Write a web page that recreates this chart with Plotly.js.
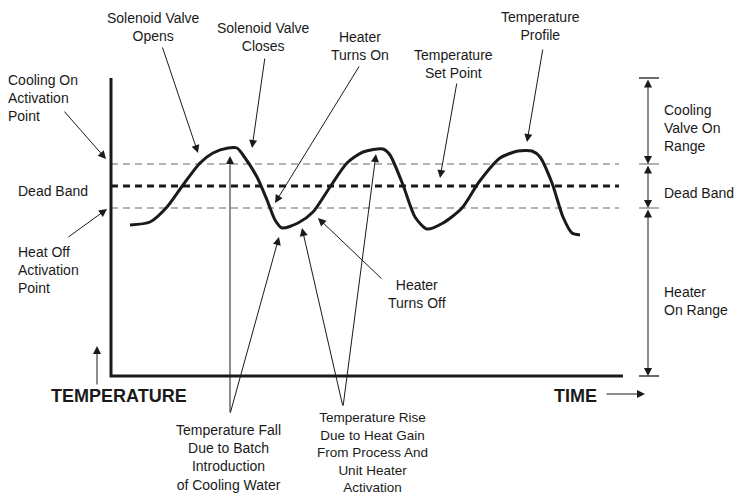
<!DOCTYPE html>
<html><head><meta charset="utf-8">
<script src="https://cdn.plot.ly/plotly-3.0.1.min.js"></script>
<style>html,body{margin:0;padding:0;background:#fff}</style>
</head><body><div id="chart" style="width:739px;height:496px"></div>
<script>
// Temperature profile (time to the right, temperature on a downward pixel scale)
const profileTime = [130,150,167,183,200,213,228,237,243,257,267,275,282,298,313,330,347,363,383,390,403,415,427,443,462,479,500,518,532,540,552,563,572,580];
const profileTemp = [225,222,207,185,163,153,148,148,155,177,200,220,228,223,212,187,163,152,149,155,185,217,229,223,208,182,158,151,151,157,183,217,233,235];

// Control levels
const coolOnLevel = 164;
const setPointLevel = 186;
const heatOffLevel = 208;
const bandX = [111, 619];

// Axes frame of the diagram
const axisX = [111, 111, 623];
const axisY = [78, 376, 376];

// Range bracket levels on the right
const rangeLevels = [78, 164, 208, 376];

// Label texts
const topLabels = ['Solenoid Valve<br>Opens', 'Solenoid Valve<br>Closes', 'Heater<br>Turns On', 'Temperature<br>Set Point', 'Temperature<br>Profile'];
const leftLabels = ['Cooling On<br>Activation<br>Point', 'Dead Band', 'Heat Off<br>Activation<br>Point'];
const rightLabels = ['Cooling<br>Valve On<br>Range', 'Dead Band', 'Heater<br>On Range'];
const bottomLabels = ['Heater<br>Turns Off', 'Temperature Fall<br>Due to Batch<br>Introduction<br>of Cooling Water', 'Temperature Rise<br>Due to Heat Gain<br>From Process And<br>Unit Heater<br>Activation'];
const axisLabels = ['TEMPERATURE', 'TIME'];

const FONT = '"Liberation Sans", Arial, Helvetica, sans-serif';
const INK = '#1a1a1a';

const traces = [
  {x: bandX, y: [coolOnLevel, coolOnLevel], mode: 'lines', line: {color: '#9a9a9a', width: 1.5, dash: '7px,5px'}},
  {x: bandX, y: [heatOffLevel, heatOffLevel], mode: 'lines', line: {color: '#9a9a9a', width: 1.5, dash: '7px,5px'}},
  {x: bandX, y: [setPointLevel, setPointLevel], mode: 'lines', line: {color: INK, width: 3, dash: '7px,5px'}},
  {x: axisX, y: axisY, mode: 'lines', line: {color: INK, width: 3}},
  {x: profileTime, y: profileTemp, mode: 'lines', line: {color: INK, width: 3, shape: 'spline', smoothing: 0.7}}
];

const shapes = rangeLevels.map((lv, i) => ({
  type: 'line', xref: 'x', yref: 'y', x0: 639, x1: 659, y0: lv, y1: lv,
  line: {color: (i === 0 || i === 3) ? INK : '#8a8a8a', width: 1.3}
}));

function ptr(ax, ay, x, y, both) {
  return {x: x, y: y, ax: ax, ay: ay, xref: 'x', yref: 'y', axref: 'x', ayref: 'y',
    text: '', showarrow: true, arrowhead: 2, arrowsize: 1.6, arrowwidth: 1, arrowcolor: INK,
    standoff: 0, startstandoff: 0, arrowside: both ? 'end+start' : 'end', startarrowhead: 2, startarrowsize: 1.6};
}
function lbl(text, x, y, anchor, size, bold) {
  return {x: x, y: y, xref: 'x', yref: 'y', text: bold ? '<b>' + text + '</b>' : text, showarrow: false,
    xanchor: anchor, yanchor: 'middle', align: anchor === 'left' ? 'left' : 'center',
    font: {family: FONT, size: size, color: INK}};
}

const annotations = [
  ptr(162, 46, 198, 153),
  ptr(265, 57, 252, 148),
  ptr(360, 65, 275, 203),
  ptr(457, 82, 440, 178),
  ptr(543, 48, 527, 142),
  ptr(63, 110, 106, 159),
  ptr(67, 238, 107, 209),
  ptr(383, 280, 318, 218),
  ptr(230, 414, 230, 156),
  ptr(230, 414, 279, 237),
  ptr(343, 407, 302, 228),
  ptr(343, 407, 376, 154),
  ptr(97, 386, 97, 346),
  ptr(605, 394, 645, 394),
  ptr(648, rangeLevels[0], 648, rangeLevels[1], true),
  ptr(648, rangeLevels[1], 648, rangeLevels[2], true),
  ptr(648, rangeLevels[2], 648, rangeLevels[3], true),
  lbl(topLabels[0], 153, 27, 'center', 14),
  lbl(topLabels[1], 263, 37, 'center', 14),
  lbl(topLabels[2], 360, 46, 'center', 14),
  lbl(topLabels[3], 453, 64, 'center', 14),
  lbl(topLabels[4], 540, 26, 'center', 14),
  lbl(leftLabels[0], 6, 98, 'left', 14),
  lbl(leftLabels[1], 16, 191, 'left', 14),
  lbl(leftLabels[2], 16, 270, 'left', 14),
  lbl(rightLabels[0], 662, 128, 'left', 14),
  lbl(rightLabels[1], 662, 193, 'left', 14),
  lbl(rightLabels[2], 662, 301, 'left', 14),
  lbl(bottomLabels[0], 417, 294, 'center', 14),
  lbl(bottomLabels[1], 228, 457, 'center', 14),
  lbl(bottomLabels[2], 372, 452, 'center', 13.5),
  lbl(axisLabels[0], 119, 396, 'center', 18, true),
  lbl(axisLabels[1], 575, 396, 'center', 18, true)
];

const layout = {
  width: 739, height: 496,
  margin: {l: 0, r: 0, t: 0, b: 0},
  paper_bgcolor: '#ffffff', plot_bgcolor: '#ffffff',
  showlegend: false,
  xaxis: {range: [0, 739], visible: false, fixedrange: true},
  yaxis: {range: [496, 0], visible: false, fixedrange: true},
  shapes: shapes,
  annotations: annotations
};

Plotly.newPlot('chart', traces, layout, {displayModeBar: false, staticPlot: true});
</script>
</body></html>
